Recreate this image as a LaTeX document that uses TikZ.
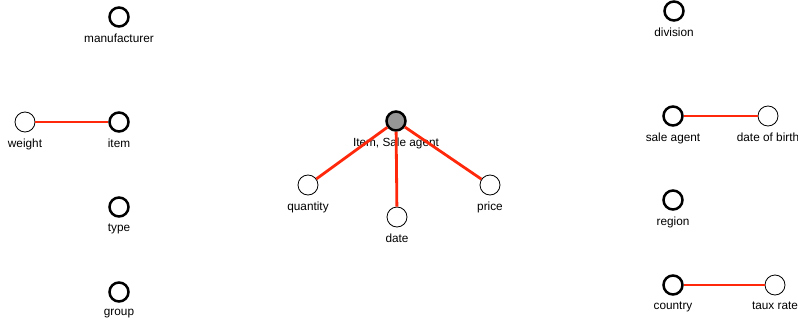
\documentclass[tikz,border=0pt]{standalone}
\usepackage{fontspec}
\setmainfont{Liberation Sans}
\usetikzlibrary{positioning}
\definecolor{linkred}{RGB}{255,40,10}
\definecolor{factgray}{RGB}{150,150,150}

\begin{document}
\begin{tikzpicture}[
  x=1pt,
  y=-1pt,
  dim/.style={
    circle,
    draw=black,
    line width=2.5pt,
    fill=white,
    minimum size=19pt,
    inner sep=0pt
  },
  attr/.style={
    circle,
    draw=black,
    line width=.8pt,
    fill=white,
    minimum size=20pt,
    inner sep=0pt
  },
  fact/.style={dim,fill=factgray},
  link/.style={draw=linkred,line width=2.8pt},
  every label/.style={
    font=\fontsize{11.8}{13}\selectfont,
    inner sep=1pt,
    yshift=-5pt
  }
]
\useasboundingbox (0,0) rectangle (798,321);

% item dimension
\node[dim,label=below:manufacturer] (manuf) at (119,17) {};
\node[dim,label=below:item] (item) at (119,122) {};
\node[attr,label=below:weight] (weight) at (25,122) {};
\node[dim,label=below:type] (type) at (119,207) {};
\node[dim,label=below:group] (group) at (119,292) {};

% fact
\node[fact,label=below:{Item, Sale agent}] (fact) at (396,121) {};
\node[attr,label=below:quantity] (qty) at (308,185) {};
\node[attr,label=below:date] (date) at (397,217) {};
\node[attr,label=below:price] (price) at (490,185) {};

% sale agent dimension
\node[dim,label=below:division] (div) at (674,11) {};
\node[dim,label=below:sale agent] (agent) at (673,116) {};
\node[attr,label=below:date of birth] (birth) at (768,116) {};
\node[dim,label=below:region] (region) at (673,200) {};
\node[dim,label=below:country] (country) at (673,285) {};
\node[attr,label=below:taux rate] (taux) at (775,285) {};

\draw[link] (weight) -- (item);
\draw[link] (fact) -- (qty);
\draw[link] (fact) -- (date);
\draw[link] (fact) -- (price);
\draw[link] (agent) -- (birth);
\draw[link] (country) -- (taux);
\end{tikzpicture}
\end{document}
